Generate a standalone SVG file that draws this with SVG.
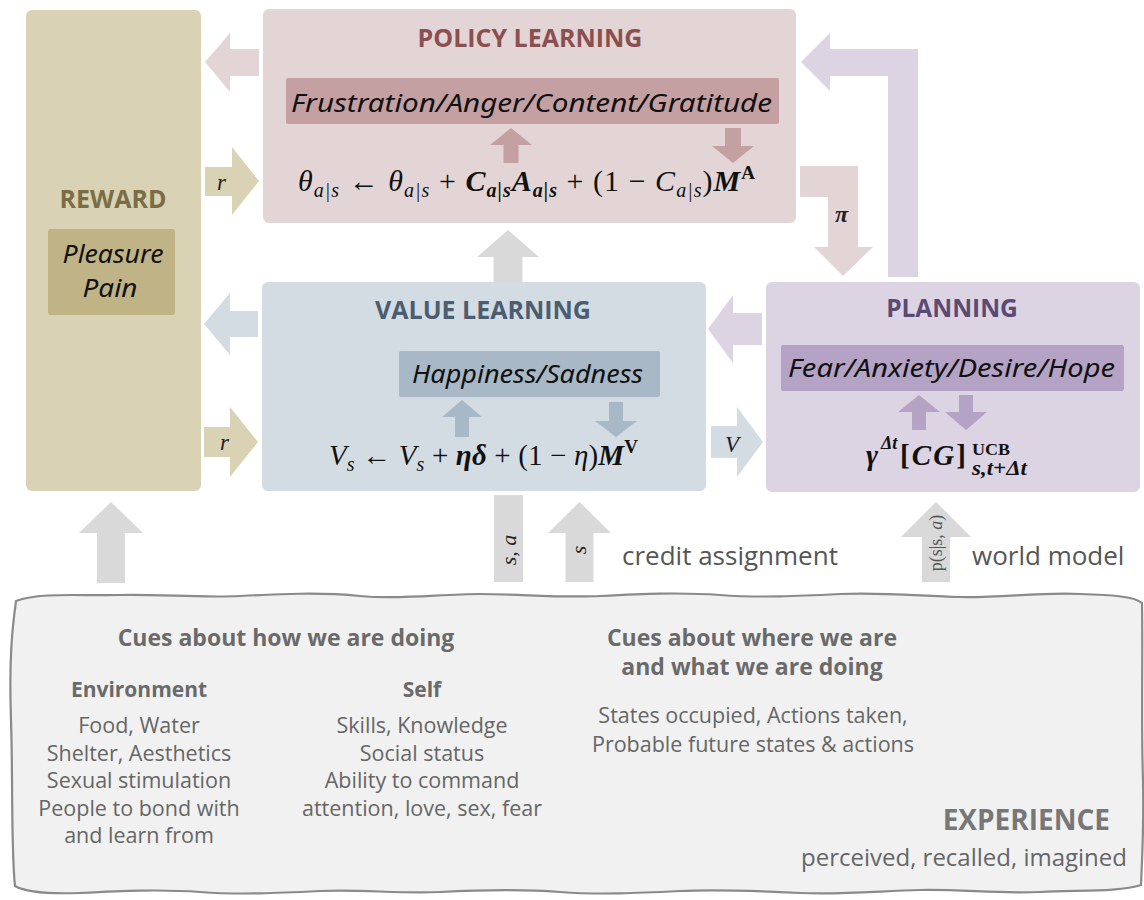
<svg xmlns="http://www.w3.org/2000/svg" width="1144" height="900" viewBox="0 0 1144 900">
  <style>
    .title{font-family:"Open Sans","Liberation Sans",sans-serif;font-weight:700;text-anchor:middle}
    .emo{font-family:"Noto Sans","DejaVu Sans",sans-serif;font-style:italic;font-size:25px;fill:#111}
    .math{font-family:"Liberation Serif","DejaVu Serif",serif;fill:#111}
    .lbl{font-family:"Liberation Serif","DejaVu Serif",serif;font-style:italic;fill:#222}
    .it{font-style:italic}
    .b{font-weight:700}
    .cap{font-family:"Open Sans","Liberation Sans",sans-serif;font-size:26px;fill:#555}
    .cue{font-family:"Open Sans","Liberation Sans",sans-serif;font-size:21.5px;fill:#666;text-anchor:middle}
    .cueh{font-family:"Open Sans","Liberation Sans",sans-serif;font-weight:700;fill:#6a6a6a;text-anchor:middle}
    .gray{fill:#d9d9d9}
  </style>

  <!-- experience panel with a hand-drawn border -->
  <g id="experience">
    <path d="M16,601 C40,592 80,596 120,595 C160,594 200,598 240,596 C280,594 320,592 360,596 C400,600 440,594 480,594 C520,594 560,598 600,596 C640,594 680,592 720,595 C760,598 800,596 840,594 C880,592 920,596 960,597 C1000,598 1040,592 1080,594 C1110,595 1134,596 1142,603 C1143,660 1141,720 1143,780 C1144,830 1142,860 1141,885 C1120,892 1080,890 1040,892 C1000,894 960,889 920,890 C880,891 840,895 800,893 C760,891 720,889 680,891 C640,893 600,895 560,892 C520,889 480,890 440,892 C400,894 360,889 320,891 C280,893 240,895 200,892 C160,889 120,891 80,893 C50,894 25,892 15,886 C11,850 13,780 11,720 C9,660 12,630 16,601 Z" fill="#f1f1f1" stroke="#8a8a8a" stroke-width="2.2"/>
    <text class="cueh" x="286" y="646" font-size="23">Cues about how we are doing</text>
    <text class="cueh" x="752" y="646" font-size="23">Cues about where we are</text>
    <text class="cueh" x="752" y="675" font-size="23">and what we are doing</text>
    <text class="cueh" x="139" y="697" font-size="21">Environment</text>
    <text class="cueh" x="422" y="697" font-size="21">Self</text>
    <text class="cue" x="139" y="733">Food, Water</text>
    <text class="cue" x="139" y="761">Shelter, Aesthetics</text>
    <text class="cue" x="139" y="788">Sexual stimulation</text>
    <text class="cue" x="139" y="816">People to bond with</text>
    <text class="cue" x="139" y="843">and learn from</text>
    <text class="cue" x="422" y="733">Skills, Knowledge</text>
    <text class="cue" x="422" y="761">Social status</text>
    <text class="cue" x="422" y="788">Ability to command</text>
    <text class="cue" x="422" y="816">attention, love, sex, fear</text>
    <text class="cue" x="753" y="723">States occupied, Actions taken,</text>
    <text class="cue" x="753" y="752">Probable future states &amp; actions</text>
    <text x="1110" y="830" text-anchor="end" font-family="Open Sans, Liberation Sans, sans-serif" font-weight="700" font-size="28" fill="#777">EXPERIENCE</text>
    <text x="1127" y="866" text-anchor="end" font-family="Open Sans, Liberation Sans, sans-serif" font-size="24" fill="#666">perceived, recalled, imagined</text>
  </g>

  <!-- reward -->
  <g id="reward">
    <rect x="26" y="10" width="175" height="481" rx="6" fill="#d9d2b4"/>
    <text class="title" x="113" y="208" font-size="25" fill="#7a6d45">REWARD</text>
    <rect x="48" y="229" width="127" height="86" rx="3" fill="#c0b386"/>
    <text class="emo" x="113" y="263" text-anchor="middle" textLength="101" lengthAdjust="spacingAndGlyphs">Pleasure</text>
    <text class="emo" x="110" y="297" text-anchor="middle" textLength="55" lengthAdjust="spacingAndGlyphs">Pain</text>
  </g>

  <!-- policy learning -->
  <g id="policy">
    <rect x="263" y="9" width="533" height="214" rx="6" fill="#e3d5d6"/>
    <text class="title" x="530" y="47" font-size="25" fill="#8c4f50">POLICY LEARNING</text>
    <rect x="286" y="78" width="493" height="46" rx="2" fill="#c4a0a2"/>
    <text class="emo" x="291" y="112" textLength="481" lengthAdjust="spacingAndGlyphs">Frustration/Anger/Content/Gratitude</text>
    <polygon fill="#c4a0a2" points="511,128 532,145 518.5,145 518.5,163 503.5,163 503.5,145 490,145"/>
    <polygon fill="#c4a0a2" points="725,128 741,128 741,146 754,146 733,163 712,146 725,146"/>
    <text class="math" x="298" y="191" font-size="30" textLength="457" lengthAdjust="spacing"><tspan class="it">θ</tspan><tspan class="it" font-size="20" dy="6">a|s</tspan><tspan dy="-6"> ← </tspan><tspan class="it">θ</tspan><tspan class="it" font-size="20" dy="6">a|s</tspan><tspan dy="-6"> + </tspan><tspan class="it b">C</tspan><tspan class="it b" font-size="20" dy="6">a|s</tspan><tspan class="it b" dy="-6">A</tspan><tspan class="it b" font-size="20" dy="6">a|s</tspan><tspan dy="-6"> + (1 − </tspan><tspan class="it">C</tspan><tspan class="it" font-size="20" dy="6">a|s</tspan><tspan dy="-6">)</tspan><tspan class="it b">M</tspan><tspan class="b" font-size="19" dy="-12">A</tspan></text>
  </g>

  <!-- value learning -->
  <g id="value">
    <rect x="262" y="282" width="444" height="209" rx="6" fill="#d4dce3"/>
    <text class="title" x="483" y="319" font-size="25" fill="#4b5d70">VALUE LEARNING</text>
    <rect x="399" y="351" width="261" height="46" rx="2" fill="#a8b8c6"/>
    <text class="emo" x="412" y="383" textLength="231" lengthAdjust="spacingAndGlyphs">Happiness/Sadness</text>
    <polygon fill="#a8b8c6" points="462,400 482,417 469,417 469,437 455,437 455,417 442,417"/>
    <polygon fill="#a8b8c6" points="609,402 623,402 623,421 637,421 616,437 595,421 609,421"/>
    <text class="math" x="329" y="465" font-size="29" textLength="309" lengthAdjust="spacing"><tspan class="it">V</tspan><tspan class="it" font-size="20" dy="6">s</tspan><tspan dy="-6"> ← </tspan><tspan class="it">V</tspan><tspan class="it" font-size="20" dy="6">s</tspan><tspan dy="-6"> + </tspan><tspan class="it b">ηδ</tspan><tspan> + (1 − </tspan><tspan class="it">η</tspan><tspan>)</tspan><tspan class="it b">M</tspan><tspan class="b" font-size="19" dy="-12">V</tspan></text>
  </g>

  <!-- planning -->
  <g id="planning">
    <rect x="766" y="282" width="374" height="210" rx="6" fill="#ddd4e3"/>
    <text class="title" x="952" y="317" font-size="24.5" fill="#5b4a72">PLANNING</text>
    <rect x="781" y="345" width="343" height="46" rx="2" fill="#b4a3c4"/>
    <text class="emo" x="788" y="377" textLength="327" lengthAdjust="spacingAndGlyphs">Fear/Anxiety/Desire/Hope</text>
    <polygon fill="#b4a3c4" points="919,395 940,412 926,412 926,430 912,430 912,412 898,412"/>
    <polygon fill="#b4a3c4" points="959,395 973,395 973,412 987,412 966,430 945,412 959,412"/>
    <text class="math b it" x="866" y="465" font-size="29">γ</text>
    <text class="math b it" x="881" y="449" font-size="18">Δt</text>
    <text class="math b" x="900" y="465" font-size="29" textLength="66" lengthAdjust="spacing">[<tspan class="it">CG</tspan>]</text>
    <text class="math b" x="972" y="455" font-size="17" textLength="38" lengthAdjust="spacingAndGlyphs">UCB</text>
    <text class="math b it" x="972" y="475" font-size="20" textLength="55" lengthAdjust="spacingAndGlyphs">s,t+Δt</text>
  </g>

  <!-- connectors -->
  <g id="connectors">
    <!-- policy to reward -->
    <polygon fill="#e3d5d6" points="205,62 230,33 230,49 259,49 259,76 230,76 230,92"/>
    <!-- reward to policy -->
    <polygon fill="#d9d2b4" points="259,181 232,147 232,167 205,167 205,196 232,196 232,215"/>
    <text class="lbl" x="217" y="190" font-size="23">r</text>
    <!-- value to reward -->
    <polygon fill="#d4dce3" points="204,324 230,293 230,311 258,311 258,337 230,337 230,355"/>
    <!-- reward to value -->
    <polygon fill="#d9d2b4" points="258,442 230,407 230,427 204,427 204,457 230,457 230,477"/>
    <text class="lbl" x="220" y="450" font-size="23">r</text>
    <!-- planning to value -->
    <polygon fill="#ddd4e3" points="708,329 733,295 733,313 762,313 762,345 733,345 733,363"/>
    <!-- value to planning -->
    <polygon fill="#d4dce3" points="763,442 737,407 737,426 711,426 711,458 737,458 737,477"/>
    <text class="lbl" x="725" y="452" font-size="23">V</text>
    <!-- policy to planning -->
    <path fill="#e3d5d6" d="M800,166 L858,166 L858,247 L873,247 L843,276 L814,247 L828,247 L828,197 L800,197 Z"/>
    <text class="lbl b" x="835" y="222" font-size="24">π</text>
    <!-- planning back to policy -->
    <path fill="#ddd4e3" d="M918,277 L918,49 L830,49 L830,33 L801,62 L830,91 L830,76 L888,76 L888,277 Z"/>
    <!-- value to policy -->
    <polygon class="gray" points="508,230 539,257 522.5,257 522.5,282 493.5,282 493.5,257 477,257"/>
    <!-- experience to reward -->
    <polygon class="gray" points="111,502 143,533 125,533 125,583 97,583 97,533 79,533"/>
    <!-- experience to value: state-action and state -->
    <rect class="gray" x="494" y="495" width="29" height="87"/>
    <text class="lbl" transform="translate(516,550) rotate(-90)" text-anchor="middle" font-size="22" fill="#555">s, a</text>
    <polygon class="gray" points="579.5,502 611,533 593.5,533 593.5,582 565.5,582 565.5,533 548,533"/>
    <text class="lbl" transform="translate(586,550) rotate(-90)" text-anchor="middle" font-size="22" fill="#555">s</text>
    <text class="cap" x="622" y="565">credit assignment</text>
    <!-- experience to planning -->
    <polygon class="gray" points="936,502 971,537 950,537 950,582 922,582 922,537 901,537"/>
    <text transform="translate(942,543) rotate(-90)" text-anchor="middle" font-family="Liberation Serif, DejaVu Serif, serif" font-size="18" fill="#555">p(s|s, <tspan font-style="italic">a</tspan>)</text>
    <text class="cap" x="972" y="565">world model</text>
  </g>
</svg>
